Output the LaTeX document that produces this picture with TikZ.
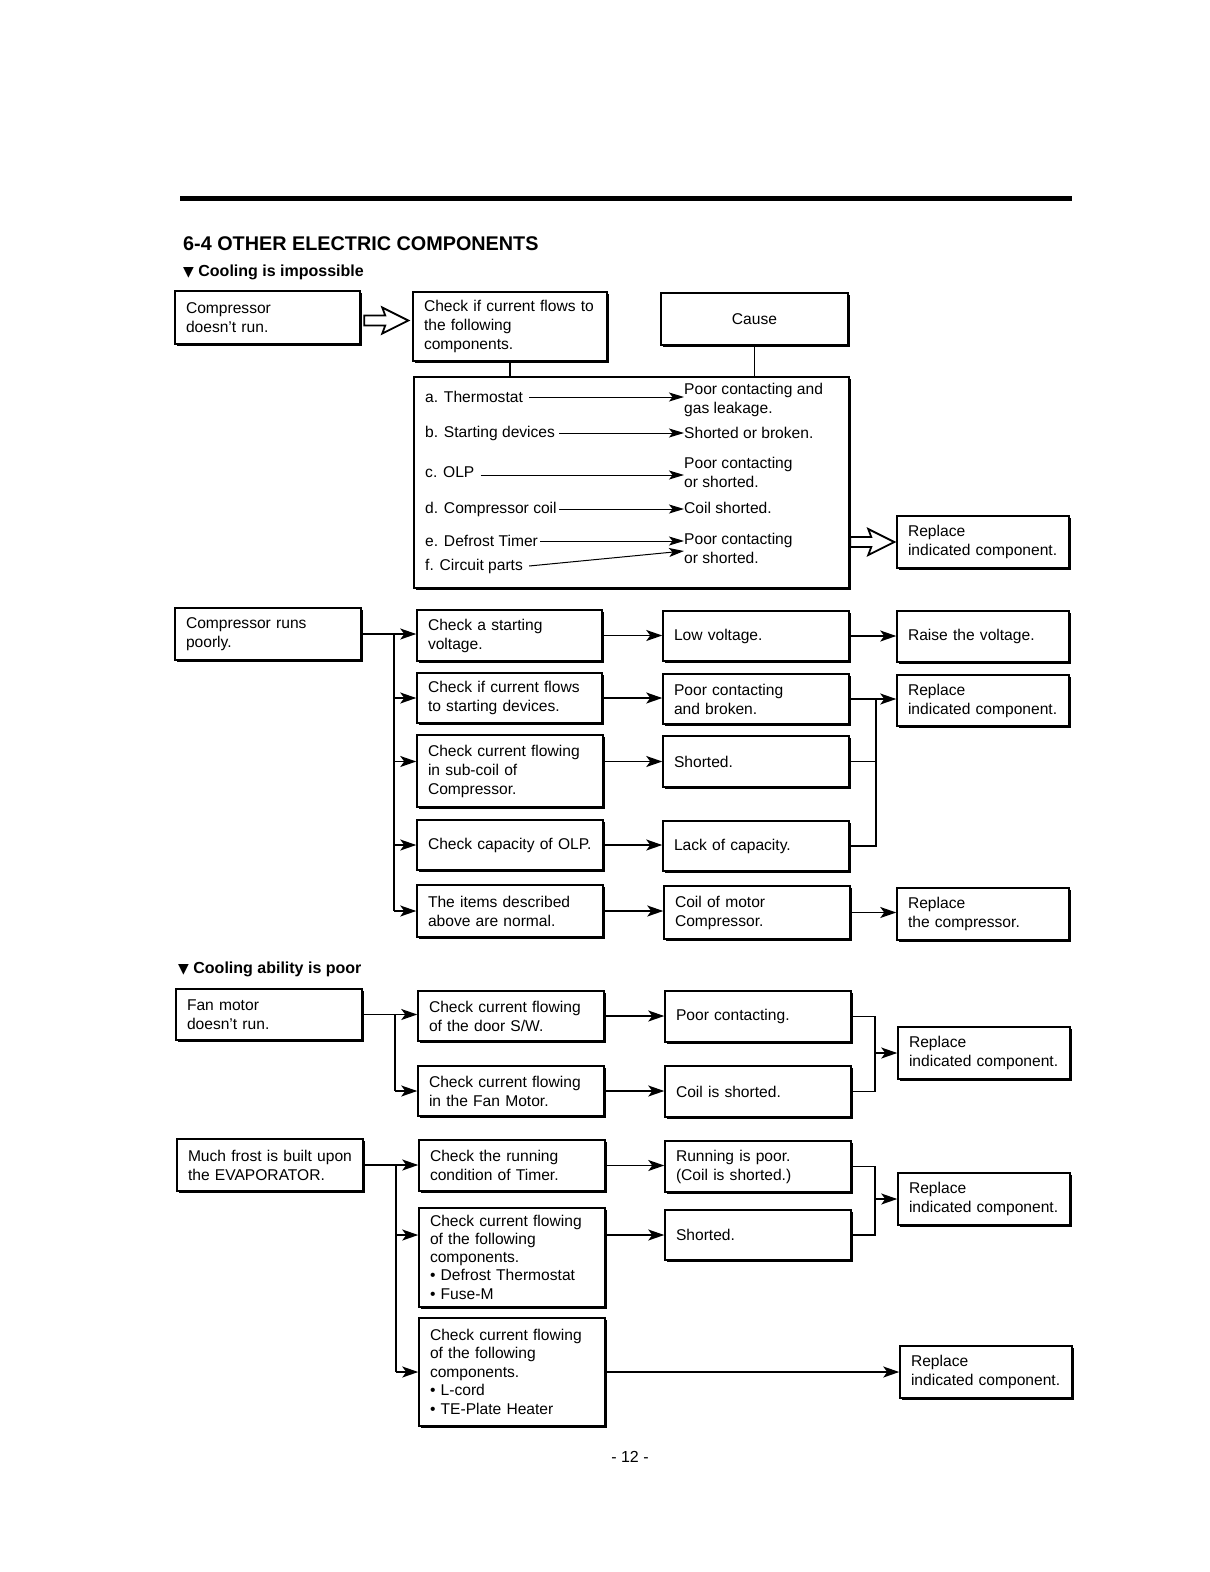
\documentclass[tikz,border=0pt]{standalone}
\usepackage{fontspec}
\setmainfont{Liberation Sans}
\newfontfamily\djv{DejaVu Sans}
\usetikzlibrary{arrows.meta,shadows,calc}
\newcommand\mybox[7][]{%
 \pgfmathsetmacro\bxw{#5-#3}%
 \pgfmathsetmacro\bxh{#6-#4}%
 \pgfmathsetmacro\bxt{#5-#3-22}%
 \node[box, minimum width=\bxw pt, minimum height=\bxh pt, text width=\bxt pt, #1] (#2) at ({(#3+#5)/2},{(#4+#6)/2}) {#7};}
\begin{document}
\begin{tikzpicture}[x=1pt,y=-1pt,
  box/.style={draw, line width=1.5pt, fill=white, align=left, inner xsep=11pt, inner ysep=0pt,
    font=\fontsize{15.6}{19}\selectfont,
    drop shadow={shadow xshift=2pt, shadow yshift=-2pt, fill=black, opacity=1}},
  ln/.style={line width=1.4pt},
  arr/.style={ln, -{Stealth[length=16pt,width=11pt,inset=4pt]}},
  tarr/.style={line width=1pt, -{Stealth[length=15pt,width=9pt,inset=3.5pt]}},
  lt/.style={inner sep=0pt, anchor=west, align=left, font=\fontsize{15.6}{19}\selectfont},
  hol/.style={line width=1.8pt, fill=white, line join=miter}
]
\useasboundingbox[fill=white] (0,0) rectangle (1210,1572);
% top rule and headings
\draw[line width=5pt] (180,198) -- (1072,198);
\node[anchor=west, inner sep=0pt, font=\bfseries\fontsize{19.8}{22}\selectfont] (title) at (183,244) {6-4 OTHER ELECTRIC COMPONENTS};
\node[anchor=west, inner sep=0pt, font=\bfseries\fontsize{16}{19}\selectfont] (sub1) at (183,272) {{\djv\fontsize{14}{16}\selectfont ▼} Cooling is impossible};
\node[anchor=west, inner sep=0pt, font=\bfseries\fontsize{16}{19}\selectfont] (sub2) at (178,969) {{\djv\fontsize{14}{16}\selectfont ▼} Cooling ability is poor};
\node[font=\fontsize{16}{19}\selectfont] (pg) at (630,1457) {- 12 -};

% ---- section 1
\mybox{A1}{175}{291}{360}{344}{Compressor\\doesn't run.}
\mybox{A2}{413}{292}{607}{361}{Check if current flows to\\the following\\components.}
\mybox[align=center]{Cause}{661}{293}{848}{345}{Cause}
\mybox{L}{414}{377}{849}{588}{}
\mybox{R1}{897}{516}{1069}{568}{Replace\\indicated component.}
\draw[ln] (A2.south) -- (A2.south |- L.north);
\draw[ln] (Cause.south) -- (Cause.south |- L.north);
\begin{scope}[shift={($(A2.west)+(-48,-6)$)}]
\draw[hol] (0,-5) -- (21,-5) -- (18,-13) -- (44,0) -- (18,13) -- (21,5) -- (0,5) -- cycle;
\end{scope}
\begin{scope}[shift={($(R1.west)+(-46,0)$)}]
\draw[hol] (0,-5) -- (21,-5) -- (18,-13) -- (44,0) -- (18,13) -- (21,5) -- (0,5) -- cycle;
\end{scope}
\node[lt] (la) at (425,397) {a. Thermostat};
\node[lt] (lb) at (425,433) {b. Starting devices};
\node[lt] (lc) at (425,472) {c. OLP};
\node[lt] (ld) at (425,509) {d. Compressor coil};
\node[lt] (le) at (425,541) {e. Defrost Timer};
\node[lt] (lf) at (425,566) {f. Circuit parts};
\node[lt] (ra) at (684,400) {Poor contacting and\\gas leakage.};
\node[lt] (rb) at (684,433) {Shorted or broken.};
\node[lt] (rc) at (684,472) {Poor contacting\\or shorted.};
\node[lt] (rd) at (684,508) {Coil shorted.};
\node[lt] (re) at (684,548) {Poor contacting\\or shorted.};
\draw[tarr] ([xshift=6pt]la.east) -- (la.east -| ra.west);
\draw[tarr] ([xshift=4pt]lb.east) -- (lb.east -| rb.west);
\draw[tarr] ([xshift=6pt,yshift=-3pt]lc.east) -- ([yshift=-3pt]lc.east -| rc.west);
\draw[tarr] ([xshift=2pt]ld.east) -- (ld.east -| rd.west);
\draw[tarr] ([xshift=2pt]le.east) -- (le.east -| re.west);
\draw[tarr] ([xshift=6pt]lf.east) -- ($(re.west)+(0,3)$);

% ---- section 2
\mybox{B1}{175}{608}{361}{660}{Compressor runs\\poorly.}
\mybox{C1}{417}{610}{602}{661}{Check a starting\\voltage.}
\mybox{C2}{417}{673}{602}{723}{Check if current flows\\to starting devices.}
\mybox{C3}{417}{735}{603}{807}{Check current flowing\\in sub-coil of\\Compressor.}
\mybox{C4}{417}{820}{603}{870}{Check capacity of OLP.}
\mybox{C5}{417}{885}{603}{937}{The items described\\above are normal.}
\mybox{D1}{663}{611}{849}{661}{Low voltage.}
\mybox{D2}{663}{674}{849}{724}{Poor contacting\\and broken.}
\mybox{D3}{663}{736}{849}{787}{Shorted.}
\mybox{D4}{663}{821}{849}{871}{Lack of capacity.}
\mybox{D5}{664}{886}{850}{939}{Coil of motor\\Compressor.}
\mybox{E1}{897}{611}{1069}{662}{Raise the voltage.}
\mybox{E2}{897}{675}{1069}{726}{Replace\\indicated component.}
\mybox{E5}{897}{888}{1069}{940}{Replace\\the compressor.}
\coordinate (tB) at (394,634);
\coordinate (mB) at (876,700);
\draw[arr] (B1.east) -- (B1.east -| C1.west);
\draw[ln] (B1.east -| tB) -- (tB |- C5.west);
\foreach \n in {C2,C4,C5} \draw[arr] (tB |- \n.west) -- (\n.west);
\draw[arr] (tB |- D3.west) -- (D3.west -| C3.west);
\foreach \a/\b in {C1/D1,C2/D2,C4/D4,C5/D5} \draw[arr] (\a.east) -- (\a.east -| \b.west);
\draw[arr] (D3.west -| C3.east) -- (D3.west);
\draw[arr] (D1.east) -- (D1.east -| E1.west);
\draw[ln] (D2.east) -- (mB |- D2.east) -- (mB |- D4.east) -- (D4.east);
\draw[ln] (D3.east) -- (mB |- D3.east);
\draw[arr] (mB |- D2.east) -- (D2.east -| E2.west);
\draw[arr] (D5.east) -- (D5.east -| E5.west);

% ---- section 3
\mybox{F1}{176}{989}{362}{1040}{Fan motor\\doesn't run.}
\mybox{G1}{418}{991}{604}{1041}{Check current flowing\\of the door S/W.}
\mybox{G2}{418}{1066}{604}{1116}{Check current flowing\\in the Fan Motor.}
\mybox{H1}{665}{991}{851}{1042}{Poor contacting.}
\mybox{H2}{665}{1066}{851}{1117}{Coil is shorted.}
\mybox{I1}{898}{1027}{1070}{1079}{Replace\\indicated component.}
\coordinate (tC) at (395,1015);
\coordinate (mC) at (875,1050);
\draw[arr] (F1.east) -- (F1.east -| G1.west);
\draw[ln] (F1.east -| tC) -- (tC |- G2.west);
\draw[arr] (tC |- G2.west) -- (G2.west);
\draw[arr] (G1.east) -- (G1.east -| H1.west);
\draw[arr] (G2.east) -- (G2.east -| H2.west);
\draw[ln] (H1.east) -- (mC |- H1.east) -- (mC |- H2.east) -- (H2.east);
\draw[arr] (mC |- I1.west) -- (I1.west);

% ---- section 4
\mybox{J1}{177}{1139}{363}{1191}{Much frost is built upon\\the EVAPORATOR.}
\mybox{K1}{419}{1140}{605}{1191}{Check the running\\condition of Timer.}
\mybox{K2}{419}{1208}{605}{1307}{\fontsize{15.6}{18.2}\selectfont Check current flowing\\of the following\\components.\\\textbullet\ Defrost Thermostat\\\textbullet\ Fuse-M}
\mybox{K3}{419}{1318}{605}{1426}{\fontsize{15.6}{18.2}\selectfont Check current flowing\\of the following\\components.\\\textbullet\ L-cord\\\textbullet\ TE-Plate Heater}
\mybox{L1}{665}{1141}{851}{1192}{Running is poor.\\(Coil is shorted.)}
\mybox{L2}{665}{1210}{851}{1260}{Shorted.}
\mybox{M1}{898}{1173}{1070}{1225}{Replace\\indicated component.}
\mybox{M2}{900}{1346}{1072}{1398}{Replace\\indicated component.}
\coordinate (tD) at (396,1165);
\coordinate (mD) at (875,1200);
\draw[arr] (J1.east) -- (J1.east -| K1.west);
\draw[ln] (J1.east -| tD) -- (tD |- K3.west);
\draw[arr] (tD |- L2.west) -- (L2.west -| K2.west);
\draw[arr] (tD |- K3.west) -- (K3.west);
\draw[arr] (K1.east) -- (K1.east -| L1.west);
\draw[arr] (L2.west -| K2.east) -- (L2.west);
\draw[ln] (L1.east) -- (mD |- L1.east) -- (mD |- L2.east) -- (L2.east);
\draw[arr] (mD |- M1.west) -- (M1.west);
\draw[arr] (K3.east) -- (K3.east -| M2.west);
\end{tikzpicture}
\end{document}
